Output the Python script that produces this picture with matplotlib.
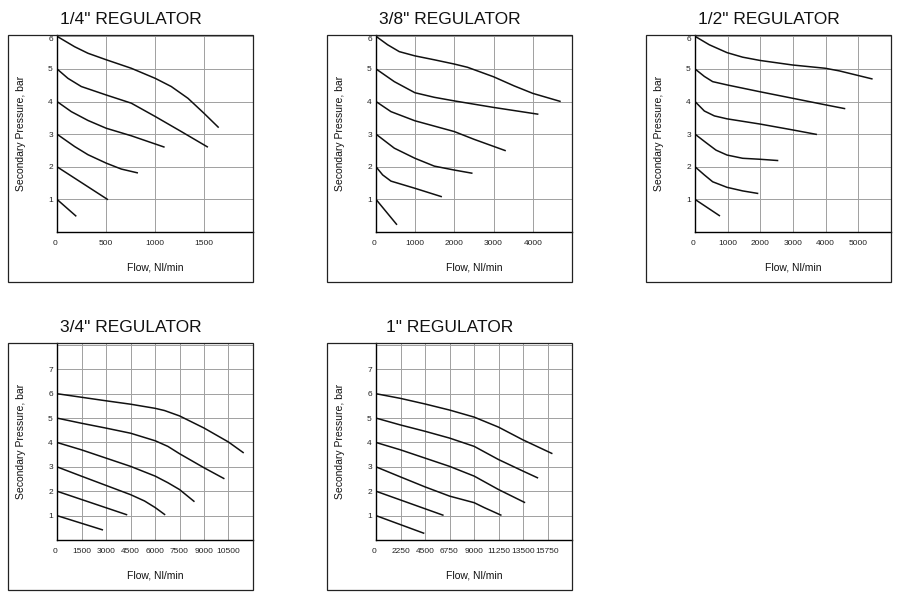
import matplotlib
matplotlib.use("Agg")
import matplotlib.pyplot as plt
from matplotlib.patches import Rectangle

plt.rcParams["font.family"] = ["Liberation Sans", "DejaVu Sans"]

W, H = 900, 603

titles = ['1/4" REGULATOR', '3/8" REGULATOR', '1/2" REGULATOR',
          '3/4" REGULATOR', '1" REGULATOR']
x_max = [2000, 5000, 6000, 12000, 18000]
x_step = [500, 1000, 1000, 1500, 2250]
y_max = [6, 6, 6, 7, 7]

# each panel: one flow list and one pressure list per curve (set pressure 6 .. 1 bar)
flow_14 = [[0, 180, 316, 503, 758, 1003, 1166, 1336, 1500, 1650],
           [0, 112, 248, 503, 758, 1003, 1268, 1540],
           [0, 146, 316, 503, 758, 1098],
           [0, 180, 316, 503, 656, 826],
           [0, 520],
           [0, 197]]
pres_14 = [[6.0, 5.68, 5.48, 5.28, 5.02, 4.71, 4.46, 4.10, 3.64, 3.20],
           [5.0, 4.71, 4.46, 4.20, 3.95, 3.54, 3.08, 2.60],
           [4.0, 3.69, 3.42, 3.18, 2.95, 2.60],
           [3.0, 2.62, 2.37, 2.11, 1.93, 1.81],
           [2.0, 0.99],
           [1.0, 0.48]]

flow_38 = [[0, 297, 594, 993, 1486, 1995, 2335, 2997, 3523, 4000, 4712],
           [0, 467, 993, 1486, 1995, 2997, 4143],
           [0, 382, 993, 1995, 2505, 3311],
           [0, 467, 993, 1486, 1995, 2462],
           [0, 170, 382, 993, 1681],
           [0, 535]]
pres_38 = [[6.0, 5.74, 5.53, 5.40, 5.28, 5.15, 5.05, 4.76, 4.48, 4.25, 4.00],
           [5.0, 4.61, 4.27, 4.13, 4.02, 3.82, 3.61],
           [4.0, 3.69, 3.41, 3.08, 2.84, 2.49],
           [3.0, 2.57, 2.26, 2.02, 1.90, 1.80],
           [2.0, 1.75, 1.56, 1.34, 1.08],
           [1.0, 0.22]]

flow_12 = [[0, 439, 979, 1459, 1989, 2989, 3988, 4417, 5437],
           [0, 286, 541, 979, 1989, 2989, 3988, 4600],
           [0, 286, 592, 979, 1989, 2989, 3733],
           [0, 337, 643, 979, 1459, 1989, 2550],
           [0, 286, 541, 979, 1459, 1938],
           [0, 765]]
pres_12 = [[6.0, 5.74, 5.50, 5.36, 5.26, 5.12, 5.02, 4.94, 4.69],
           [5.0, 4.77, 4.61, 4.51, 4.30, 4.10, 3.90, 3.78],
           [4.0, 3.71, 3.56, 3.47, 3.31, 3.13, 2.99],
           [3.0, 2.74, 2.51, 2.36, 2.26, 2.23, 2.19],
           [2.0, 1.75, 1.54, 1.37, 1.26, 1.18],
           [1.0, 0.49]]

flow_34 = [[0, 2996, 4504, 6012, 6583, 7500, 9008, 10496, 11433],
           [0, 1488, 2996, 4504, 6012, 6787, 7500, 9008, 10251],
           [0, 1488, 2996, 4504, 6012, 6787, 7500, 8417],
           [0, 1488, 2996, 4504, 5360, 6012, 6624],
           [0, 4300],
           [0, 2817]]
pres_34 = [[6.0, 5.71, 5.57, 5.40, 5.31, 5.09, 4.59, 4.02, 3.57],
           [5.0, 4.79, 4.59, 4.38, 4.07, 3.84, 3.54, 2.96, 2.51],
           [4.0, 3.70, 3.36, 3.02, 2.62, 2.35, 2.07, 1.57],
           [3.0, 2.62, 2.24, 1.86, 1.60, 1.33, 1.03],
           [2.0, 1.03],
           [1.0, 0.41]]

flow_1 = [[0, 2232, 4494, 6756, 9018, 11250, 13481, 16202],
          [0, 2232, 4494, 6756, 9018, 11250, 13481, 14888],
          [0, 2232, 4494, 6756, 9018, 11250, 13696],
          [0, 2232, 4494, 6756, 9018, 9935, 11525],
          [0, 6206],
          [0, 4438]]
pres_1 = [[6.0, 5.81, 5.58, 5.33, 5.04, 4.63, 4.11, 3.54],
          [5.0, 4.72, 4.46, 4.18, 3.84, 3.30, 2.83, 2.54],
          [4.0, 3.70, 3.36, 3.02, 2.62, 2.07, 1.53],
          [3.0, 2.59, 2.18, 1.80, 1.53, 1.33, 1.01],
          [2.0, 1.01],
          [1.0, 0.27]]

flows = [flow_14, flow_38, flow_12, flow_34, flow_1]
pressures = [pres_14, pres_38, pres_12, pres_34, pres_1]

# outer box top-left corners in pixels
boxes = [(8, 35), (327, 35), (646, 35), (8, 343), (327, 343)]
box_w, box_h = 245, 247
ax_off, ax_w, ax_h = 49, 196, 197

fig = plt.figure(figsize=(W / 100, H / 100), dpi=100)

for i in range(5):
    bx, by = boxes[i]
    fig.patches.append(Rectangle((bx / W, 1 - (by + box_h) / H), box_w / W, box_h / H,
                                 transform=fig.transFigure, fill=False,
                                 edgecolor="#222222", linewidth=0.9))
    ax = fig.add_axes([(bx + ax_off) / W, 1 - (by + ax_h) / H, ax_w / W, ax_h / H])

    for f, p in zip(flows[i], pressures[i]):
        ax.plot(f, p, color="#111111", linewidth=1.1, solid_capstyle="butt",
                solid_joinstyle="round")

    top = 6.04 if y_max[i] == 6 else 8.08
    ax.set_xlim(0, x_max[i])
    ax.set_ylim(0, top)
    xt = list(range(0, x_max[i] + 1, x_step[i]))
    ax.set_xticks(xt)
    ax.set_xticklabels([str(v) for v in xt[:-1]] + [""])
    yt = list(range(0, (8 if y_max[i] == 7 else 6) + 1))
    ax.set_yticks(yt)
    ax.set_yticklabels(["" if (v == 0 or v > y_max[i]) else str(v) for v in yt])
    ax.grid(True, color="#a0a0a0", linewidth=0.7)
    ax.set_axisbelow(True)
    ax.tick_params(length=0, labelsize=6, colors="#222222")
    ax.tick_params(axis="x", pad=6)
    ax.tick_params(axis="y", pad=3)
    ax.get_xticklabels()[0].set_ha("right")
    if y_max[i] == 6:
        ax.get_yticklabels()[6].set_va("top")
    for s in ["top", "right"]:
        ax.spines[s].set_visible(False)
    for s in ["left", "bottom"]:
        ax.spines[s].set_color("black")
        ax.spines[s].set_linewidth(1.0)

    cx = bx + box_w / 2
    fig.text(cx / W, 1 - (by - 15) / H, titles[i], ha="center", va="center",
             fontsize=12.5, color="#111111")
    fig.text((bx + ax_off + ax_w / 2) / W, 1 - (by + 233) / H, "Flow, Nl/min",
             ha="center", va="center", fontsize=7.5, color="#111111")
    fig.text((bx + 13) / W, 1 - (by + ax_h / 2) / H, "Secondary Pressure, bar",
             ha="center", va="center", rotation=90, fontsize=7.5, color="#111111")

fig.savefig("out.png", dpi=100)
